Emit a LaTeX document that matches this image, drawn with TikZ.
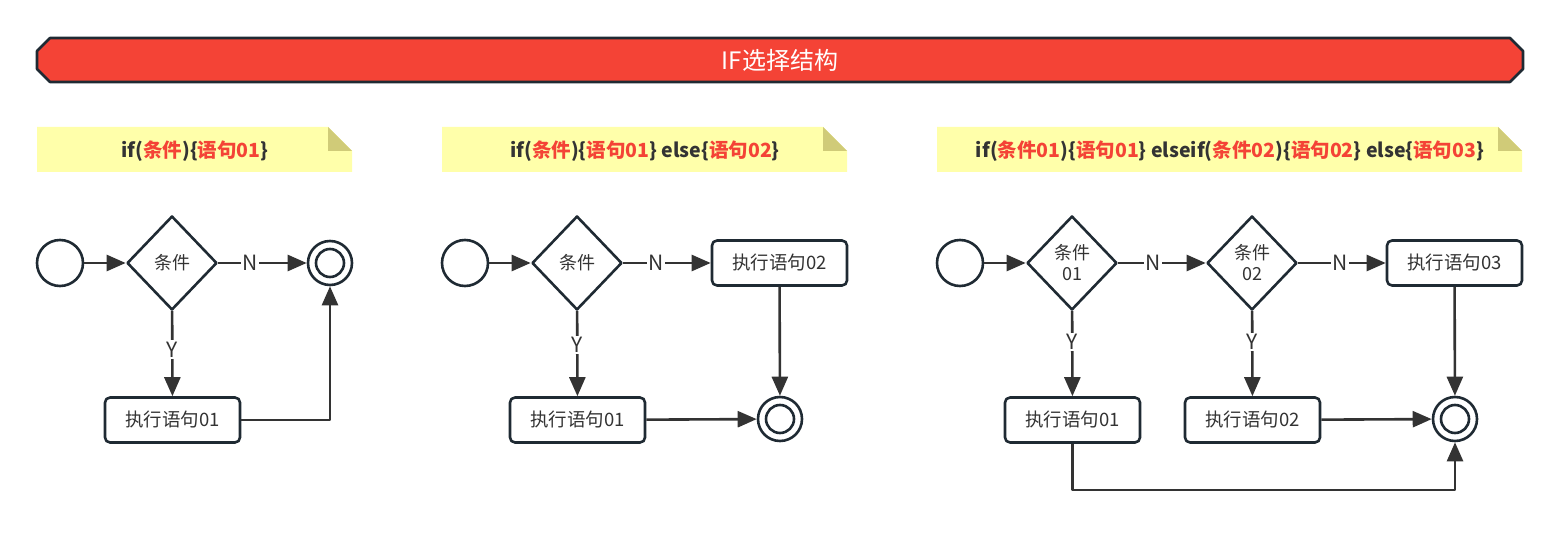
\documentclass[tikz,border=0pt]{standalone}
\usepackage{fontspec}
\setmainfont{Noto Sans CJK SC}
\usetikzlibrary{arrows.meta,shapes.geometric}
\definecolor{edge}{HTML}{1F2A33}
\definecolor{ink}{HTML}{333333}
\definecolor{hl}{HTML}{F44336}
\definecolor{band}{HTML}{F44336}
\definecolor{notefill}{HTML}{FFFFAA}
\definecolor{notefold}{HTML}{D0CB78}
\begin{document}
\begin{tikzpicture}[x=1pt,y=-1pt,line join=round,
  txt/.style={font=\fontsize{18.5}{22}\selectfont,text=ink},
  startev/.style={circle,draw=edge,line width=2.6pt,minimum size=46pt,inner sep=0pt},
  endev/.style={circle,draw=edge,line width=2.6pt,minimum size=44pt,inner sep=0pt},
  cond/.style={diamond,draw=edge,line width=2.6pt,minimum width=90pt,minimum height=94pt,inner sep=0pt,txt,align=center,font=\fontsize{18}{21}\selectfont},
  act/.style={rectangle,rounded corners=5pt,draw=edge,line width=2.6pt,minimum width=135pt,minimum height=45pt,inner sep=0pt,txt},
  flow/.style={draw=ink,line width=2.6pt,-{Triangle[length=19pt,width=16pt]}},
  lbl/.style={fill=white,inner sep=1.5pt,txt,font=\fontsize{21}{24}\selectfont},
  notetxt/.style={font=\bfseries\fontsize{19.5}{22}\selectfont,text=ink},
]
\useasboundingbox (0,0) rectangle (1560,534);

% title band with chamfered ends
\draw[fill=band,draw=edge,line width=2.6pt]
  (50,38) -- (1510,38) -- (1523,51) -- (1523,69) -- (1510,82) -- (50,82) -- (37,69) -- (37,51) -- cycle;
\node[text=white,font=\fontsize{24}{27}\selectfont] (title) at (780,60) {IF选择结构};

% sticky notes with a folded top-right corner
\newcommand{\stickynote}[2]{%
  \fill[notefill] (#1,127) -- (#2-24,127) -- (#2,151) -- (#2,172) -- (#1,172) -- cycle;
  \fill[notefold] (#2-24,127) -- (#2,151) -- (#2-24,151) -- cycle;
}
\stickynote{37}{352}
\stickynote{442}{847}
\stickynote{937}{1522}
\node[notetxt] (n1) at (195,151) {if(\textcolor{hl}{条件})\{\textcolor{hl}{语句01}\}};
\node[notetxt] (n2) at (645,151) {if(\textcolor{hl}{条件})\{\textcolor{hl}{语句01}\} else\{\textcolor{hl}{语句02}\}};
\node[notetxt] (n3) at (1230,151) {if(\textcolor{hl}{条件01})\{\textcolor{hl}{语句01}\} elseif(\textcolor{hl}{条件02})\{\textcolor{hl}{语句02}\} else\{\textcolor{hl}{语句03}\}};

% if
\node[startev] (s1) at (60,263) {};
\node[cond] (c1) at (172,263) {条件};
\node[endev] (e1) at (330,263) {};
\draw[edge,line width=2.6pt] (e1.center) circle (14pt);
\node[act] (a1) at (172.5,420) {执行语句01};
\draw[flow] (s1) -- (c1);
\draw[flow] (c1) -- node[lbl,pos=0.36]{N} (e1);
\draw[flow] (c1) -- node[lbl,pos=0.45]{Y} (a1);
\draw[flow] (a1.east) -| (e1.south);

% if-else
\node[startev] (s2) at (465,263) {};
\node[cond] (c2) at (577,263) {条件};
\node[act] (a22) at (779.5,263) {执行语句02};
\node[act] (a21) at (577.5,420) {执行语句01};
\node[endev] (e2) at (780,419) {};
\draw[edge,line width=2.6pt] (e2.center) circle (14pt);
\draw[flow] (s2) -- (c2);
\draw[flow] (c2) -- node[lbl,pos=0.37]{N} (a22);
\draw[flow] (c2) -- node[lbl,pos=0.4]{Y} (a21);
\draw[flow] (a22) -- (e2);
\draw[flow] (a21) -- (e2);

% if-elseif-else
\node[startev] (s3) at (960,263) {};
\node[cond] (c31) at (1072,263) {条件\\01};
\node[cond] (c32) at (1252,263) {条件\\02};
\node[act] (a33) at (1454.5,263) {执行语句03};
\node[act] (a31) at (1072.5,420) {执行语句01};
\node[act] (a32) at (1252.5,420) {执行语句02};
\node[endev] (e3) at (1455,419) {};
\draw[edge,line width=2.6pt] (e3.center) circle (14pt);
\draw[flow] (s3) -- (c31);
\draw[flow] (c31) -- node[lbl,pos=0.4]{N} (c32);
\draw[flow] (c32) -- node[lbl,pos=0.48]{N} (a33);
\draw[flow] (c31) -- node[lbl,pos=0.36]{Y} (a31);
\draw[flow] (c32) -- node[lbl,pos=0.36]{Y} (a32);
\draw[flow] (a33) -- (e3);
\draw[flow] (a32) -- (e3);
\draw[flow] (a31.south) -- ++(0,46) -| (e3.south);
\end{tikzpicture}
\end{document}
